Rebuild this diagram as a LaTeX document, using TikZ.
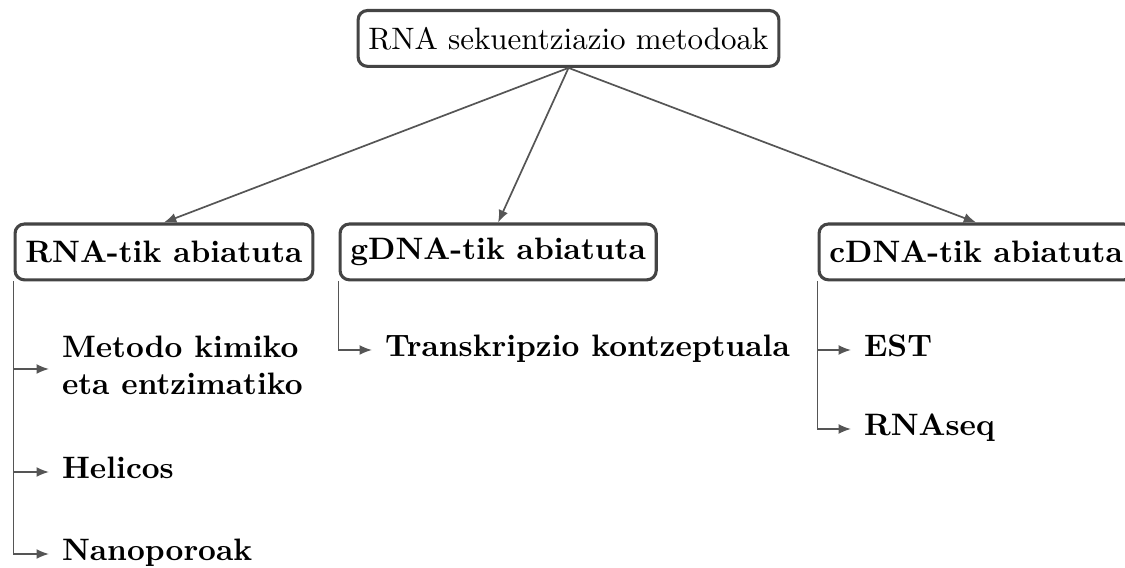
\documentclass[tikz,border=0pt]{standalone}
\usetikzlibrary{arrows.meta}
\definecolor{boxgray}{HTML}{444444}
\definecolor{linegray}{HTML}{555555}
\begin{document}
\begin{tikzpicture}[x=0.32258pt,y=-0.32258pt,
  box/.style={draw=boxgray, line width=1pt, rounded corners=3pt,
    minimum height=18pt, inner xsep=3.33pt, fill=white},
  head/.style={box, font=\bfseries, anchor=north west},
  leafbase/.style={font=\bfseries, align=left, inner xsep=4pt, inner ysep=0pt, anchor=west},
  leaf/.style={leafbase, text height=6.94pt, text depth=2.5pt},
  link/.style={draw=linegray, line width=0.55pt,
    -{Latex[length=4pt,width=3.2pt]}, color=linegray},
]
\useasboundingbox (0,0) rectangle (1125,568);
\clip (0,0) rectangle (1125,568);

% root and the three starting points
\node[box, anchor=north] (top) at (568.5,9) {RNA sekuentziazio metodoak};
\node[head] (rna)  at (13.5,222.5) {RNA-tik abiatuta};
\node[head] (gdna) at (338.5,222.5) {gDNA-tik abiatuta};
\node[head] (cdna) at (817.5,222.5) {cDNA-tik abiatuta};

% methods under each starting point
\node[leafbase, text depth=2.5pt] (m1) at (49,369) {Metodo kimiko\\eta entzimatiko};
\node[leaf] (m2) at (49,472) {Helicos};
\node[leaf] (m3) at (49,554) {Nanoporoak};
\node[leaf] (g1) at (372,350) {Transkripzio kontzeptuala};
\node[leaf] (e1) at (851,350) {EST};
\node[leaf] (e2) at (851,429) {RNAseq};

% root to starting points
\draw[link] (top.south) -- (rna.north);
\draw[link] (top.south) -- (gdna.north);
\draw[link] (top.south) -- (cdna.north);

% starting points to methods
\draw[link] (rna.south west) |- (m1.west);
\draw[link] (rna.south west) |- (m2.west);
\draw[link] (rna.south west) |- (m3.west);
\draw[link] (gdna.south west) |- (g1.west);
\draw[link] (cdna.south west) |- (e1.west);
\draw[link] (cdna.south west) |- (e2.west);
\end{tikzpicture}
\end{document}
